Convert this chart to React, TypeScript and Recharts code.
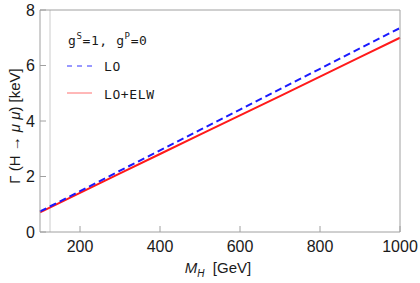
import { LineChart, Line, XAxis, YAxis, ReferenceLine } from 'recharts';

const masses = [100, 200, 300, 400, 500, 600, 700, 800, 900, 1000];
const widthLO = [0.74, 1.47, 2.21, 2.94, 3.68, 4.41, 5.15, 5.88, 6.62, 7.35];
const widthELW = [0.71, 1.41, 2.11, 2.81, 3.51, 4.2, 4.9, 5.6, 6.3, 7.0];

const xMajor = [200, 400, 600, 800, 1000];
const xMinor = [100, 150, 200, 250, 300, 350, 400, 450, 500, 550, 600, 650, 700, 750, 800, 850, 900, 950, 1000];
const yMajor = [0, 2, 4, 6, 8];
const yMinor = [0, 0.5, 1, 1.5, 2, 2.5, 3, 3.5, 4, 4.5, 5, 5.5, 6, 6.5, 7, 7.5, 8];

const frame = '#a0a0a0';
const tickFont = { fontFamily: 'Liberation Sans, Arial, sans-serif', fontSize: 16, fill: '#1a1a1a' };
const monoFont = { fontFamily: 'DejaVu Sans Mono, monospace', fontSize: 13, fill: '#1a1a1a', letterSpacing: 0.6 };

const data = masses.map((m, i) => ({ m, lo: widthLO[i], elw: widthELW[i] }));

// legend drawn on top, like the framed inset in the original plot
function LegendOverlay() {
  return (
    <svg width={420} height={283} style={{ position: 'absolute', left: 0, top: 0, pointerEvents: 'none' }}>
      <text x={68} y={45} style={monoFont}>
        g<tspan fontSize={9} dy={-6}>S</tspan>
        <tspan dy={6}>=1,  g</tspan>
        <tspan fontSize={9} dy={-6}>P</tspan>
        <tspan dy={6}>=0</tspan>
      </text>
      <line x1={67} y1={66} x2={92} y2={66} stroke="#3333ff" strokeWidth={1} strokeDasharray="5 5" />
      <text x={104} y={70.5} style={monoFont}>LO</text>
      <line x1={67} y1={93} x2={92} y2={93} stroke="#ff7070" strokeWidth={1} />
      <text x={104} y={99} style={monoFont}>LO+ELW</text>
    </svg>
  );
}

export default function App() {
  return (
    <div style={{ position: 'absolute', left: 0, top: 0, width: 420, height: 283, background: '#fff' }}>
      <LineChart width={420} height={283} data={data} margin={{ top: 9, right: 19, bottom: 0, left: 0 }}>
        <XAxis xAxisId="minor" type="number" dataKey="m" domain={[100, 1000]} ticks={xMinor} tickSize={-3}
          tick={false} axisLine={false} tickLine={{ stroke: frame }} height={1} />
        <XAxis xAxisId="top" orientation="top" type="number" dataKey="m" domain={[100, 1000]} ticks={xMinor}
          tickSize={-3} tick={false} axisLine={{ stroke: frame }} tickLine={{ stroke: frame }} height={1} />
        <XAxis xAxisId="main" type="number" dataKey="m" domain={[100, 1000]} ticks={xMajor} tickSize={-6}
          tickMargin={15} tick={tickFont} axisLine={{ stroke: frame }} tickLine={{ stroke: frame }} height={50}
          label={{
            content: () => (
              <text x={218} y={273} textAnchor="middle" style={{ ...tickFont, fontSize: 15 }}>
                <tspan fontStyle="italic">M</tspan>
                <tspan fontStyle="italic" fontSize={10} dy={4}>H</tspan>
                <tspan dy={-4}>{'\u00a0\u00a0[GeV]'}</tspan>
              </text>
            ),
          }} />
        <YAxis yAxisId="minor" type="number" domain={[0, 8]} ticks={yMinor} tickSize={-3} tick={false}
          axisLine={false} tickLine={{ stroke: frame }} width={1} />
        <YAxis yAxisId="right" orientation="right" type="number" domain={[0, 8]} ticks={yMinor} tickSize={-3}
          tick={false} axisLine={{ stroke: frame }} tickLine={{ stroke: frame }} width={1} />
        <YAxis yAxisId="main" type="number" domain={[0, 8]} ticks={yMajor} tickSize={-6} tickMargin={11}
          tick={tickFont} axisLine={{ stroke: frame }} tickLine={{ stroke: frame }} width={39}
          label={{
            content: () => (
              <text x={0} y={0} transform="translate(20,126) rotate(-90)" textAnchor="middle" style={{ ...tickFont, fontSize: 15 }}>
                Γ (H → <tspan fontStyle="italic">μ μ</tspan>) [keV]
              </text>
            ),
          }} />
        <ReferenceLine xAxisId="main" yAxisId="main" x={125} stroke="#cccccc" strokeWidth={1} />
        <Line xAxisId="main" yAxisId="main" dataKey="elw" stroke="#ff1a1a" strokeWidth={2} dot={false} isAnimationActive={false} />
        <Line xAxisId="main" yAxisId="main" dataKey="lo" stroke="#1a1aff" strokeWidth={2} strokeDasharray="7 4" dot={false} isAnimationActive={false} />
      </LineChart>
      <LegendOverlay />
    </div>
  );
}
